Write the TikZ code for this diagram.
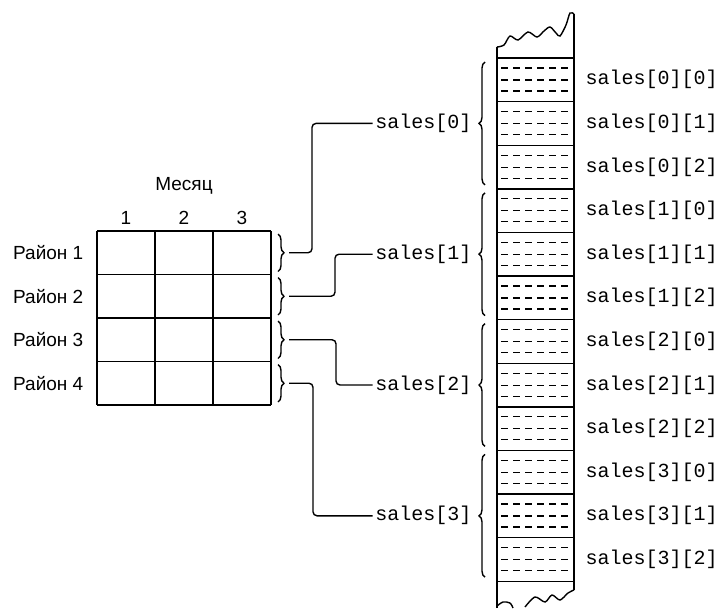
\documentclass[tikz,border=0pt]{standalone}
\usepackage{fontspec}
\setmainfont{Liberation Sans}
\setmonofont{Liberation Mono}
\usetikzlibrary{decorations.pathreplacing}

\tikzset{
  lbl/.style={font=\fontsize{19}{22}\selectfont,inner sep=2pt},
  code/.style={font=\ttfamily\fontsize{20}{24}\selectfont,inner sep=2pt},
  brc/.style={decorate,decoration={brace,amplitude=6pt}},
  link/.style={rounded corners=4pt},
  cellline/.style={dash pattern=on 7pt off 5pt,line width=1.2pt}
}

\begin{document}
\begin{tikzpicture}[x=1pt,y=-1pt,line width=1.4pt]
  \useasboundingbox (0,0) rectangle (720,608);
  % table
  \foreach \c in {0,1,2,3} \draw (97+58*\c,231) -- (97+58*\c,405);
  \foreach \r in {0,...,4} \draw (97,231+43.5*\r) -- (271,231+43.5*\r);
  \node[lbl] (month) at (184,186) {Месяц};
  \foreach \c in {1,2,3} \node[lbl] (col\c) at (68+58*\c,218) {\c};
  \foreach \r in {0,...,3} {
    \pgfmathtruncatemacro\n{\r+1}
    \node[lbl,anchor=east] (dist\r) at (86,252.75+43.5*\r) {Район \n};
    \draw[brc] (278,234+43.5*\r) -- (278,271.5+43.5*\r);
    \coordinate (b\r) at (289,252.75+43.5*\r);
  }
  % memory
  \foreach \k in {0,...,12} \draw (497,58+43.6*\k) -- (574,58+43.6*\k);
  \foreach \k in {0,...,11} \foreach \f in {10,22,33}
    \draw[cellline] (501,58+43.6*\k+\f) -- (573,58+43.6*\k+\f);
  \draw (497,608) -- (497,47);
  \draw (574,590) -- (574,14);
  \draw plot[smooth] coordinates {(497,47) (504,45) (510,36) (518,40) (528,32)
    (537,37) (544,31) (550,27) (556,33) (560,36) (566,25) (570,13) (574,14)};
  \draw plot[smooth] coordinates {(497,606) (503,602) (510,603) (513,608)};
  \draw plot[smooth] coordinates {(525,607) (535,597) (545,602) (552,595)
    (560,600) (568,593) (574,590)};
  \foreach \g in {0,...,3} {
    \node[code,anchor=east] (s\g) at (474,123.4+130.8*\g) {sales[\g]};
    \draw[brc] (485,58+130.8*\g+126.8) -- (485,58+130.8*\g+4);
    \foreach \j in {0,1,2}
      \node[code,anchor=west] (e\g\j) at (583,79.8+130.8*\g+43.6*\j) {sales[\g][\j]};
  }
  \draw[link] (b0) -- ++(23,0) |- (s0.west);
  \draw[link] (b1) -- ++(46,0) |- (s1.west);
  \draw[link] (b2) -- ++(47,0) |- (s2.west);
  \draw[link] (b3) -- ++(24,0) |- (s3.west);
\end{tikzpicture}
\end{document}
